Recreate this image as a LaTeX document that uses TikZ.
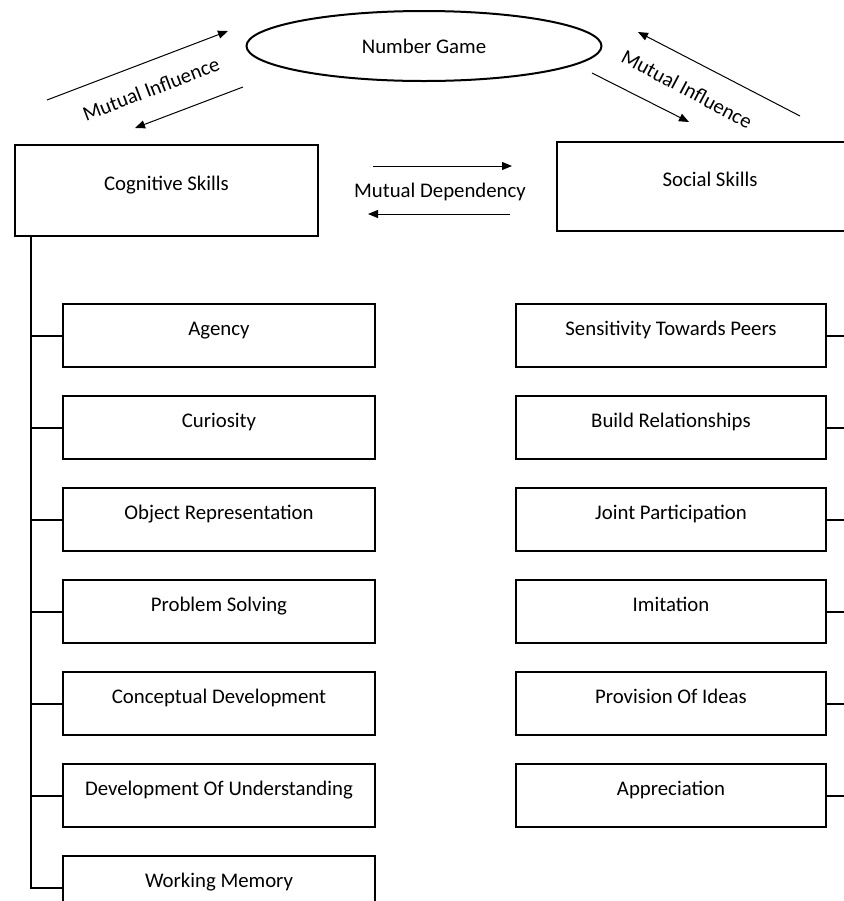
\documentclass[tikz,border=0pt]{standalone}
\usepackage{fontspec}
\setmainfont{Carlito}
\usepackage{tikz}
\usetikzlibrary{positioning, arrows.meta, shapes.geometric}
\tikzset{
  headbox/.style={rectangle, draw=black, line width=1pt,
                  minimum width=152pt, minimum height=45pt,
                  text height=6pt, text depth=6pt, align=center},
  itembox/.style={rectangle, draw=black, line width=1pt,
                  minimum width=156pt, minimum height=31.5pt,
                  text height=6pt, text depth=6pt, align=center},
  gamebox/.style={ellipse, draw=black, line width=1pt,
                  minimum width=177.5pt, minimum height=35pt, inner sep=0pt},
  arr/.style={-{Triangle[length=5pt,width=4pt]}, line width=0.5pt},
  branch/.style={line width=1pt},
}

\begin{document}
\begin{tikzpicture}[x=0.5pt, y=-0.5pt, node distance=13.5pt and 20pt,
                    every node/.style={font=\fontsize{10.4}{12}\selectfont}]
    \clip (0,0) rectangle (844,901);
    \node[gamebox] (game) at (424,46) {Number Game};
    \node[headbox, minimum width=151.5pt, minimum height=45.5pt] (cog)
          at (166.5,190.5) {Cognitive Skills};
    \node[headbox, minimum width=153pt, minimum height=44.5pt] (soc)
          at (710,186.5) {Social Skills};

    \node[itembox] (agency) at (219,335.5) {Agency};
    \node[itembox, below=of agency] (curio) {Curiosity};
    \node[itembox, below=of curio] (objrep) {Object Representation};
    \node[itembox, below=of objrep] (probsolv) {Problem Solving};
    \node[itembox, below=of probsolv] (concdev) {Conceptual Development};
    \node[itembox, below=of concdev] (devund) {Development Of Understanding};
    \node[itembox, below=of devund] (workmem) {Working Memory};

    \node[itembox, minimum width=155pt] (sens) at (671,335.5) {Sensitivity Towards Peers};
    \node[itembox, minimum width=155pt, below=of sens] (build) {Build Relationships};
    \node[itembox, minimum width=155pt, below=of build] (joint) {Joint Participation};
    \node[itembox, minimum width=155pt, below=of joint] (imit) {Imitation};
    \node[itembox, minimum width=155pt, below=of imit] (ideas) {Provision Of Ideas};
    \node[itembox, minimum width=155pt, below=of ideas] (apprec) {Appreciation};

    \coordinate (trunk) at ([xshift=8.5pt]cog.south west);
    \draw[branch] (trunk) |- (workmem.west);
    \foreach \n in {agency,curio,objrep,probsolv,concdev,devund}
      \draw[branch] (trunk |- \n.west) -- (\n.west);
    \coordinate (rim) at (860,0);
    \foreach \n in {sens,build,joint,imit,ideas,apprec}
      \draw[branch] (\n.east) -- (\n.east -| rim);

    \coordinate (inl-a) at (47,100);  \coordinate (inl-b) at (228,31);
    \coordinate (inl-c) at (243,87);  \coordinate (inl-d) at (135,128);
    \draw[arr] (inl-a) -- (inl-b); \draw[arr] (inl-c) -- (inl-d);
    \node[rotate=21] (infl-l) at (151,89) {Mutual Influence};

    \coordinate (inr-a) at (800,116); \coordinate (inr-b) at (638,32);
    \coordinate (inr-c) at (592,73);  \coordinate (inr-d) at (689,122);
    \draw[arr] (inr-a) -- (inr-b); \draw[arr] (inr-c) -- (inr-d);
    \node[rotate=-28] (infl-r) at (687,89) {Mutual Influence};

    \coordinate (dep-a) at (373,166); \coordinate (dep-b) at (512,166);
    \coordinate (dep-c) at (510,214); \coordinate (dep-d) at (368,214);
    \draw[arr] (dep-a) -- (dep-b); \draw[arr] (dep-c) -- (dep-d);
    \node (dep) at (440,192) {Mutual Dependency};
  \end{tikzpicture}
\end{document}
